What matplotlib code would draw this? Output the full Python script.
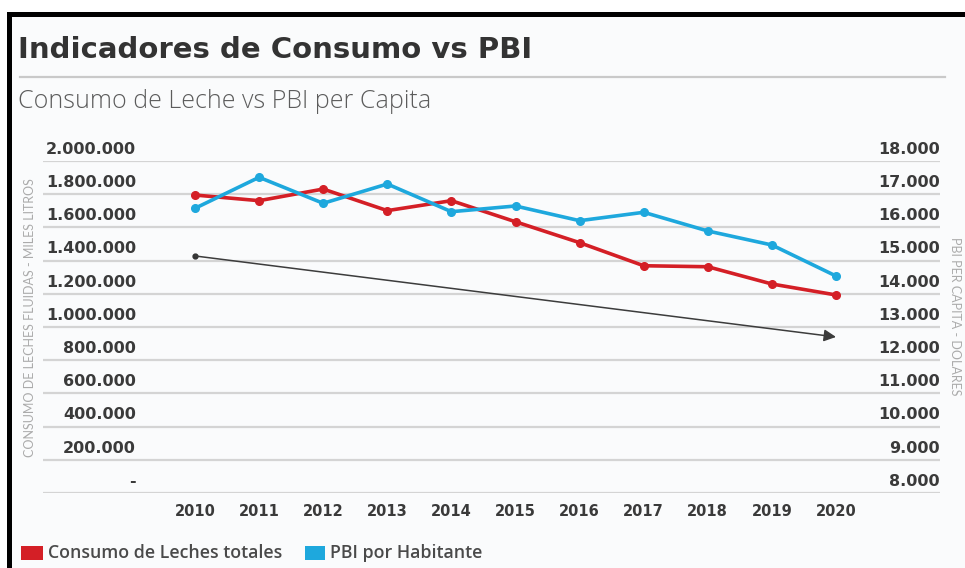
import matplotlib
matplotlib.use("Agg")
import matplotlib.pyplot as plt
from matplotlib.patches import Rectangle
from matplotlib.lines import Line2D
import matplotlib.transforms as mtransforms

# ---- data ----
years = [2010, 2011, 2012, 2013, 2014, 2015, 2016, 2017, 2018, 2019, 2020]
consumo_leche = [1795000, 1761000, 1831000, 1701000, 1761000, 1634000,
                 1508000, 1369000, 1363000, 1259000, 1193000]
pbi_habitante = [16575, 17509, 16726, 17307, 16473, 16645,
                 16202, 16455, 15892, 15470, 14536]
trend_years = [2010, 2020]
trend_values = [1428000, 940000]

left_ticks = [0, 200000, 400000, 600000, 800000, 1000000, 1200000,
              1400000, 1600000, 1800000, 2000000]
left_labels = ["-", "200.000", "400.000", "600.000", "800.000", "1.000.000",
               "1.200.000", "1.400.000", "1.600.000", "1.800.000", "2.000.000"]
right_ticks = [8000, 9000, 10000, 11000, 12000, 13000, 14000, 15000,
               16000, 17000, 18000]
right_labels = ["8.000", "9.000", "10.000", "11.000", "12.000", "13.000",
                "14.000", "15.000", "16.000", "17.000", "18.000"]

RED = "#d41f26"
BLUE = "#1ea8dd"
DARK = "#3a3a3a"
GRID = "#d4d4d4"
BG = "#fafbfc"
NUMFONT = "DejaVu Sans"
TXTFONT = "Open Sans"

W, H = 965, 568
fig = plt.figure(figsize=(W / 100, H / 100), dpi=100)
fig.patch.set_facecolor("white")

def fx(px):
    return px / W

def fy(py):
    return 1 - py / H

# panel background and frame
fig.patches.append(Rectangle((fx(7), 0), 1 - fx(7), fy(12), transform=fig.transFigure,
                             facecolor=BG, edgecolor="none", zorder=-10))
fig.patches.append(Rectangle((fx(7), fy(17)), 1 - fx(7), fy(12) - fy(17),
                             transform=fig.transFigure, facecolor="black",
                             edgecolor="none", zorder=-5))
fig.patches.append(Rectangle((fx(7), 0), fx(12) - fx(7), fy(12),
                             transform=fig.transFigure, facecolor="black",
                             edgecolor="none", zorder=-5))

# title block
fig.text(fx(18), fy(50), "Indicadores de Consumo vs PBI", family=NUMFONT,
         weight="bold", fontsize=21, color="#333333", va="center", ha="left")
fig.add_artist(Line2D([fx(20), fx(945)], [fy(77), fy(77)], color="#c9c9c9",
                      lw=1.6, transform=fig.transFigure))
fig.text(fx(18), fy(102), "Consumo de Leche vs PBI per Capita", family=TXTFONT,
         weight="light", fontsize=18, color="#5c5c5c", va="center", ha="left")

# main axes: spans gridline extent
ax_left, ax_right = 43, 940
ax_top, ax_bottom = 161, 493
ax = fig.add_axes([fx(ax_left), fy(ax_bottom), fx(ax_right) - fx(ax_left),
                   fy(ax_top) - fy(ax_bottom)])
ax.set_facecolor("none")
px_per_year = (836 - 195) / 10
ax.set_xlim(2010 - (195 - ax_left) / px_per_year, 2020 + (ax_right - 836) / px_per_year)
ax.set_ylim(0, 2000000)
for s in ax.spines.values():
    s.set_visible(False)
ax.set_yticks(left_ticks)
ax.set_yticklabels([])
ax.tick_params(axis="y", length=0)
ax.yaxis.grid(True, color=GRID, lw=1.6)
ax.set_axisbelow(True)
ax.set_xticks(years)
ax.set_xticklabels([str(y) for y in years], family=NUMFONT, weight="bold",
                   fontsize=10.5, color=DARK)
ax.tick_params(axis="x", length=0, pad=8)

ax2 = ax.twinx()
ax2.set_ylim(8000, 18000)
for s in ax2.spines.values():
    s.set_visible(False)
ax2.set_yticks([])

# tick labels sit just above each gridline
tl = mtransforms.blended_transform_factory(ax.transAxes, ax.transData)
off = mtransforms.offset_copy(tl, fig=fig, y=3, units="points")
lx = (136 - ax_left) / (ax_right - ax_left)
for v, lab in zip(left_ticks, left_labels):
    ax.text(lx, v, lab, transform=off, ha="right", va="bottom", family=NUMFONT,
            weight="bold", fontsize=11.5, color=DARK)
tr = mtransforms.blended_transform_factory(ax2.transAxes, ax2.transData)
off2 = mtransforms.offset_copy(tr, fig=fig, y=3, units="points")
for v, lab in zip(right_ticks, right_labels):
    ax2.text(1.0, v, lab, transform=off2, ha="right", va="bottom", family=NUMFONT,
             weight="bold", fontsize=11.5, color=DARK)

# series
ax.plot(years, consumo_leche, color=RED, lw=2.6, marker="o", markersize=5.5,
        zorder=4, solid_joinstyle="round")
ax2.plot(years, pbi_habitante, color=BLUE, lw=2.6, marker="o", markersize=5.5,
         zorder=4, solid_joinstyle="round")

# trend arrow
ax.annotate("", xy=(trend_years[1], trend_values[1]),
            xytext=(trend_years[0], trend_values[0]),
            arrowprops=dict(arrowstyle="-|>", color="#3c3c3c", lw=1.1,
                            mutation_scale=18, shrinkA=0, shrinkB=0))
ax.plot([trend_years[0]], [trend_values[0]], "o", color="#333333", markersize=3.5)

# axis titles
fig.text(fx(30), fy(318), "CONSUMO DE LECHES FLUIDAS - MILES LITROS", rotation=90,
         family="Lato", fontsize=9, color="#ababab", ha="center", va="center")
fig.text(fx(955), fy(316), "PBI PER CAPITA - DOLARES", rotation=270,
         family="Lato", fontsize=9, color="#ababab", ha="center", va="center")

# legend
fig.patches.append(Rectangle((fx(21), fy(560)), fx(43) - fx(21), fy(546) - fy(560),
                             transform=fig.transFigure, facecolor=RED, edgecolor="none"))
fig.text(fx(48), fy(553), "Consumo de Leches totales", family=TXTFONT, weight="semibold",
         fontsize=12.8, color="#4a4a4a", va="center", ha="left")
fig.patches.append(Rectangle((fx(305), fy(560)), fx(325) - fx(305), fy(546) - fy(560),
                             transform=fig.transFigure, facecolor=BLUE, edgecolor="none"))
fig.text(fx(330), fy(553), "PBI por Habitante", family=TXTFONT, weight="semibold",
         fontsize=12.8, color="#4a4a4a", va="center", ha="left")

fig.savefig("out.png", dpi=100, facecolor=fig.get_facecolor())
